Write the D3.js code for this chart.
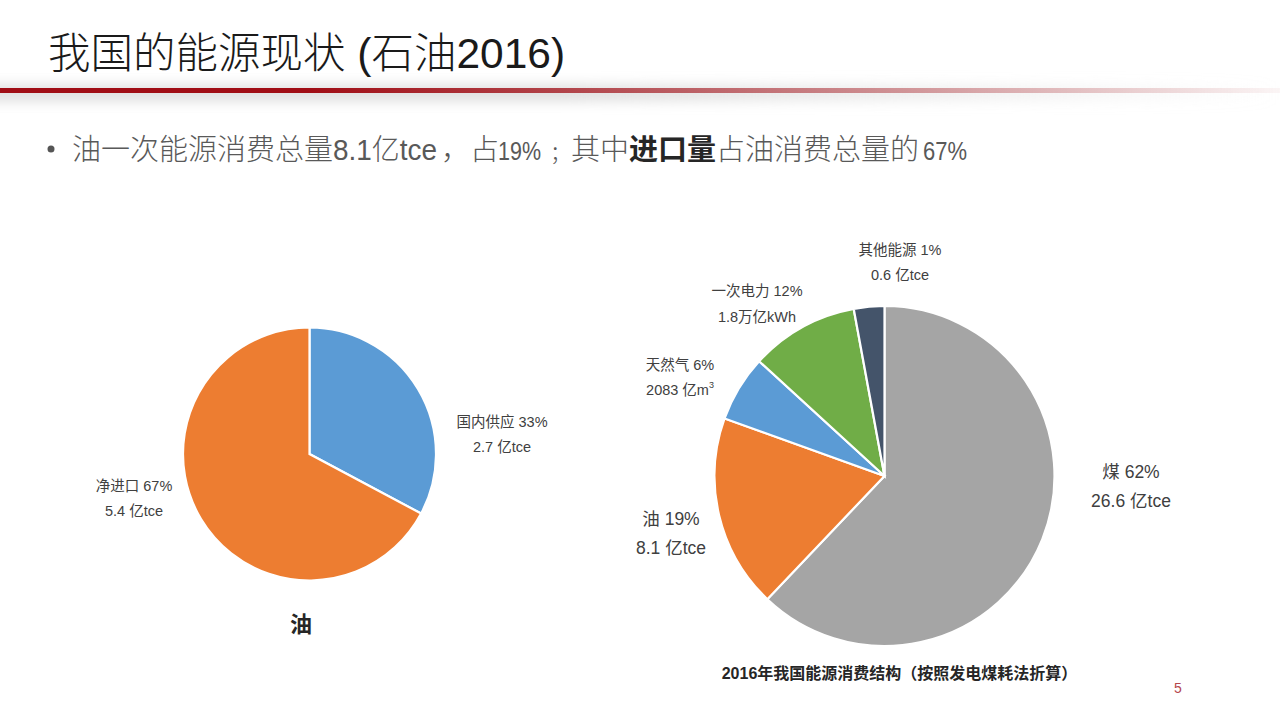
<!DOCTYPE html>
<html lang="zh-CN">
<head>
<meta charset="UTF-8">
<title>我国的能源现状</title>
<script src="https://d3js.org/d3.v7.min.js"></script>
<style>
    html, body { margin: 0; padding: 0; background: #fff; }
    svg { display: block; }
    text { font-family: "Liberation Sans", "Noto Sans CJK SC", sans-serif; }
</style>
</head>
<body>
<div id="chart"></div>
<script>
// left pie: oil supply
const oilNames = ["国内供应", "净进口"];
const oilValues = [32.8, 67.2];
const oilColors = ["#5b9bd5", "#ed7d31"];
const oilLabels = [["国内供应 33%", "2.7 亿tce"], ["净进口 67%", "5.4 亿tce"]];

// right pie: energy mix (slice sizes as drawn, labels as printed)
const mixNames = ["煤", "油", "天然气", "一次电力", "其他能源"];
const mixValues = [62.1, 18.4, 6.3, 10.3, 2.9];
const mixColors = ["#a5a5a5", "#ed7d31", "#5b9bd5", "#70ad47", "#44546a"];
const mixLabels = [
    ["煤 62%", "26.6 亿tce"],
    ["油 19%", "8.1 亿tce"],
    ["天然气 6%", "2083 亿m|3"],
    ["一次电力 12%", "1.8万亿kWh"],
    ["其他能源 1%", "0.6 亿tce"]
];

const width = 1280, height = 720;
const svg = d3.select("#chart").append("svg")
    .attr("width", width)
    .attr("height", height);

const defs = svg.append("defs");

const ruleGrad = defs.append("linearGradient").attr("id", "ruleGrad");
ruleGrad.append("stop").attr("offset", "0%").attr("stop-color", "#a00d15");
ruleGrad.append("stop").attr("offset", "24%").attr("stop-color", "#a00d15");
ruleGrad.append("stop").attr("offset", "100%").attr("stop-color", "#a00d15").attr("stop-opacity", 0.04);

const shadeGrad = defs.append("linearGradient").attr("id", "shadeGrad");
shadeGrad.append("stop").attr("offset", "0%").attr("stop-color", "#d8d8d8");
shadeGrad.append("stop").attr("offset", "45%").attr("stop-color", "#d8d8d8");
shadeGrad.append("stop").attr("offset", "100%").attr("stop-color", "#d8d8d8").attr("stop-opacity", 0);

defs.append("filter").attr("id", "blur").attr("x", "-5%").attr("y", "-200%")
    .attr("width", "110%").attr("height", "500%")
    .append("feGaussianBlur").attr("stdDeviation", "0 7");

// header
svg.append("rect").attr("x", -30).attr("y", 86).attr("width", width + 30).attr("height", 14)
    .attr("fill", "url(#shadeGrad)").attr("filter", "url(#blur)");
svg.append("rect").attr("x", 0).attr("y", 88).attr("width", width).attr("height", 5)
    .attr("fill", "url(#ruleGrad)");

svg.append("text").attr("x", 48).attr("y", 68)
    .attr("font-size", 42.5).attr("fill", "#1a1a1a").attr("font-weight", 300)
    .text("我国的能源现状 (石油2016)");

svg.append("circle").attr("cx", 51).attr("cy", 149).attr("r", 3.5).attr("fill", "#555");

// the source sets latin text narrower than the default, so place the runs one by one
const bulletRuns = [
    { text: "油一次能源消费总量", x: 72 },
    { text: "8.1亿tce", x: 333, len: 104 },
    { text: "，", x: 441 },
    { text: "占", x: 470 },
    { text: "19%", x: 498, size: 26, len: 43 },
    { text: "；", x: 550, size: 21 },
    { text: "其中", x: 571 },
    { text: "进口量", x: 629, bold: true },
    { text: "占油消费总量的", x: 716 },
    { text: "67%", x: 923, size: 26, len: 44 }
];

svg.append("g").selectAll("text")
    .data(bulletRuns)
    .join("text")
    .attr("x", d => d.x)
    .attr("y", 160)
    .attr("font-size", d => d.size || 29)
    .attr("font-weight", d => d.bold ? 700 : 300)
    .attr("fill", d => d.bold ? "#262626" : "#595959")
    .attr("textLength", d => d.len || null)
    .attr("lengthAdjust", d => d.len ? "spacingAndGlyphs" : null)
    .text(d => d.text);

function drawPie(names, values, colors, cx, cy, radius) {
    const pie = d3.pie().sort(null).value(d => d);
    const arc = d3.arc().innerRadius(0).outerRadius(radius);
    const colorScale = d3.scaleOrdinal().domain(names).range(colors);

    svg.append("g")
        .attr("transform", `translate(${cx},${cy})`)
        .selectAll("path")
        .data(pie(values))
        .join("path")
        .attr("d", arc)
        .attr("fill", (d, i) => colorScale(names[i]))
        .attr("stroke", "#fff")
        .attr("stroke-width", 2.2);
}

drawPie(oilNames, oilValues, oilColors, 309.5, 454, 126.5);
drawPie(mixNames, mixValues, mixColors, 884.5, 476, 170);

// two-line slice labels, "|" marks a superscript
function drawLabel(lines, x, y, size, gap) {
    lines.forEach((line, i) => {
        const parts = line.split("|");
        const t = svg.append("text")
            .attr("x", x)
            .attr("y", y + i * gap)
            .attr("text-anchor", "middle")
            .attr("dominant-baseline", "central")
            .attr("font-size", size)
            .attr("fill", "#404040");
        t.append("tspan").text(parts[0]);
        if (parts[1]) {
            t.append("tspan").attr("font-size", size * 0.62).attr("dy", -size * 0.35).text(parts[1]);
        }
    });
}

drawLabel(oilLabels[0], 502, 422, 14.5, 25);
drawLabel(oilLabels[1], 134, 486, 14.5, 25);
drawLabel(mixLabels[0], 1131, 472, 17.5, 29);
drawLabel(mixLabels[1], 671, 519, 17.5, 29);
drawLabel(mixLabels[2], 680, 365, 14.5, 25);
drawLabel(mixLabels[3], 757, 291, 14.5, 25.5);
drawLabel(mixLabels[4], 900, 250, 14.5, 25);

svg.append("text").attr("x", 301).attr("y", 624)
    .attr("text-anchor", "middle").attr("dominant-baseline", "central")
    .attr("font-size", 22).attr("font-weight", 700).attr("fill", "#262626")
    .text("油");

svg.append("text").attr("x", 899.5).attr("y", 673)
    .attr("text-anchor", "middle").attr("dominant-baseline", "central")
    .attr("font-size", 16).attr("font-weight", 700).attr("fill", "#262626")
    .text("2016年我国能源消费结构（按照发电煤耗法折算）");

svg.append("text").attr("x", 1178).attr("y", 688)
    .attr("text-anchor", "middle").attr("dominant-baseline", "central")
    .attr("font-size", 14).attr("fill", "#b5474c")
    .text("5");
</script>
</body>
</html>
